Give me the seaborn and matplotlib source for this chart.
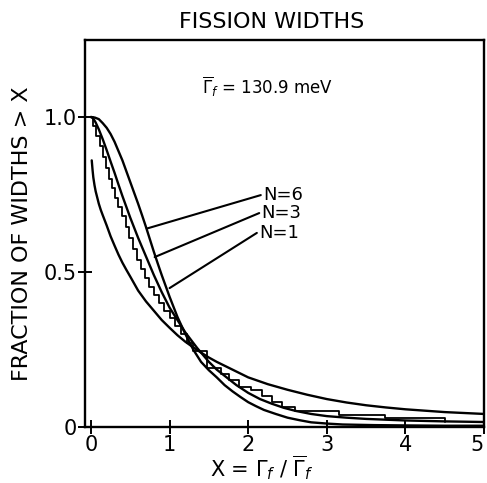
import matplotlib
matplotlib.use("Agg")
import matplotlib.pyplot as plt
import seaborn as sns
import pandas as pd

# ---- data ----
n1_x = [0.01, 0.02, 0.03, 0.045, 0.06, 0.08, 0.1, 0.125, 0.15, 0.2, 0.25, 0.3, 0.35, 0.4,
        0.45, 0.5, 0.6, 0.7, 0.8, 0.9, 1.0, 1.1, 1.2, 1.3, 1.4, 1.5, 1.6, 1.8, 2.0, 2.25,
        2.5, 2.75, 3.0, 3.25, 3.5, 3.75, 4.0, 4.5, 5.0]
n1_y = [0.86, 0.83, 0.805, 0.78, 0.76, 0.74, 0.72, 0.70, 0.683, 0.65, 0.615, 0.585, 0.556,
        0.53, 0.507, 0.485, 0.44, 0.405, 0.375, 0.345, 0.32, 0.296, 0.275, 0.257, 0.24,
        0.224, 0.21, 0.185, 0.16, 0.138, 0.12, 0.104, 0.09, 0.079, 0.07, 0.063, 0.057,
        0.048, 0.042]

n3_x = [0.0, 0.03, 0.06, 0.1, 0.15, 0.2, 0.25, 0.3, 0.35, 0.4, 0.45, 0.5, 0.6, 0.7, 0.8,
        0.9, 1.0, 1.1, 1.2, 1.35, 1.5, 1.6, 1.7, 1.85, 2.0, 2.15, 2.3, 2.45, 2.6, 2.8,
        3.0, 3.25, 3.5, 4.0, 4.5, 5.0]
n3_y = [1.0, 0.995, 0.982, 0.96, 0.928, 0.893, 0.856, 0.82, 0.782, 0.745, 0.71, 0.675,
        0.61, 0.55, 0.49, 0.435, 0.385, 0.345, 0.305, 0.255, 0.21, 0.185, 0.165, 0.135,
        0.11, 0.09, 0.075, 0.062, 0.052, 0.042, 0.035, 0.03, 0.026, 0.021, 0.018, 0.016]

n6_x = [0.0, 0.05, 0.1, 0.15, 0.2, 0.25, 0.3, 0.35, 0.4, 0.45, 0.5, 0.55, 0.6, 0.65, 0.7,
        0.75, 0.8, 0.85, 0.9, 0.95, 1.0, 1.1, 1.2, 1.3, 1.4, 1.5, 1.6, 1.7, 1.8, 1.9, 2.0,
        2.1, 2.2, 2.35, 2.5, 2.65, 2.8, 3.0, 3.2, 3.6, 4.0, 4.5, 5.0]
n6_y = [1.0, 0.998, 0.993, 0.98, 0.965, 0.945, 0.92, 0.89, 0.86, 0.825, 0.79, 0.755, 0.72,
        0.683, 0.645, 0.605, 0.565, 0.527, 0.49, 0.455, 0.42, 0.355, 0.30, 0.25, 0.21,
        0.183, 0.16, 0.135, 0.115, 0.097, 0.08, 0.067, 0.055, 0.042, 0.03, 0.022, 0.015,
        0.011, 0.008, 0.006, 0.005, 0.004, 0.004]

stair_x = [0.0, 0.03, 0.07, 0.11, 0.15, 0.19, 0.23, 0.27, 0.31, 0.35, 0.39, 0.44, 0.49,
           0.54, 0.59, 0.64, 0.69, 0.74, 0.80, 0.86, 0.93, 1.00, 1.07, 1.14, 1.22, 1.30,
           1.48, 1.66, 1.76, 1.88, 2.04, 2.18, 2.30, 2.43, 2.60, 3.16, 3.74, 4.50]
stair_y = [1.0, 0.97, 0.94, 0.905, 0.87, 0.835, 0.80, 0.77, 0.74, 0.71, 0.68, 0.645, 0.61,
           0.575, 0.54, 0.51, 0.48, 0.45, 0.425, 0.40, 0.375, 0.35, 0.325, 0.30, 0.27, 0.245,
           0.19, 0.17, 0.15, 0.13, 0.12, 0.10, 0.08, 0.065, 0.052, 0.04, 0.028, 0.015]

labels = ["N=6", "N=3", "N=1"]
leader_start_x = [0.71, 0.81, 1.00]
leader_start_y = [0.64, 0.548, 0.448]
leader_end_x = [2.16, 2.14, 2.11]
leader_end_y = [0.748, 0.69, 0.626]

x_ticks = [0, 1, 2, 3, 4, 5]
x_tick_labels = ["0", "1", "2", "3", "4", "5"]
y_ticks = [0, 0.5, 1.0]
y_tick_labels = ["0", "0.5", "1.0"]

sns.set_style("ticks")
plt.rcParams["font.family"] = ["DejaVu Sans"]
plt.rcParams.update({"text.color": "black", "axes.labelcolor": "black",
                     "xtick.color": "black", "ytick.color": "black"})

fig = plt.figure(figsize=(4.87, 4.83), dpi=100)
ax = fig.add_axes([0.1745, 0.116, 0.8195, 0.801])

lw = 1.7
for xs, ys in [(n1_x, n1_y), (n3_x, n3_y), (n6_x, n6_y)]:
    df = pd.DataFrame({"x": xs, "y": ys})
    sns.lineplot(data=df, x="x", y="y", ax=ax, color="black", lw=lw,
                 sort=False, estimator=None)

sdf = pd.DataFrame({"x": stair_x, "y": stair_y})
sns.lineplot(data=sdf, x="x", y="y", ax=ax, color="black", lw=1.3,
             drawstyle="steps-post", sort=False, estimator=None)

for i, lab in enumerate(labels):
    ldf = pd.DataFrame({"x": [leader_start_x[i], leader_end_x[i]],
                        "y": [leader_start_y[i], leader_end_y[i]]})
    sns.lineplot(data=ldf, x="x", y="y", ax=ax, color="black", lw=1.5,
                 sort=False, estimator=None)
    ax.text(leader_end_x[i] + 0.03, leader_end_y[i], lab, fontsize=13,
            ha="left", va="center")

ax.set_xlim(-0.076, 4.975)
ax.set_ylim(0, 1.248)
ax.set_xticks(x_ticks)
ax.set_xticklabels(x_tick_labels, fontsize=15)
ax.get_xticklabels()[-1].set_ha("right")
ax.set_yticks(y_ticks)
ax.set_yticklabels(y_tick_labels, fontsize=15)
ax.tick_params(axis="both", direction="inout", length=10, width=1.4, pad=1)
for s in ax.spines.values():
    s.set_linewidth(1.7)
    s.set_color("black")

ax.set_xlabel("")
ax.set_ylabel("FRACTION OF WIDTHS > X", fontsize=16, labelpad=8)
fig.text(0.538, 0.031, r"X = $\Gamma_f$ / $\overline{\Gamma}_f$", fontsize=15,
         ha="center", va="center")
fig.text(0.557, 0.955, "FISSION WIDTHS", fontsize=16, ha="center", va="center")
ax.text(2.24, 1.097, r"$\overline{\Gamma}_f$ = 130.9 meV", fontsize=12,
        ha="center", va="center")

fig.savefig("out.png", dpi=100)
